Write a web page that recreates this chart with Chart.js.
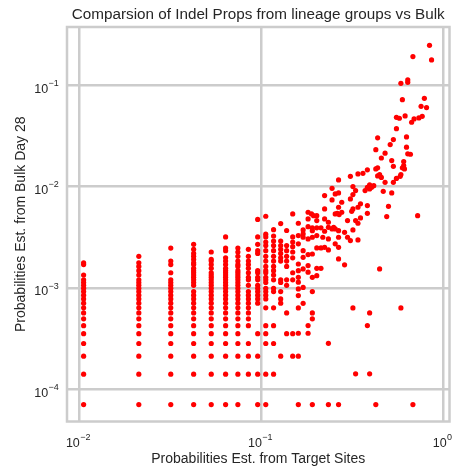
<!DOCTYPE html>
<html>
<head>
<meta charset="utf-8">
<title>Comparsion of Indel Props from lineage groups vs Bulk</title>
<script src="https://cdn.jsdelivr.net/npm/chart.js@4.4.0/dist/chart.umd.min.js"></script>
<style>
  html, body { margin: 0; padding: 0; background: #ffffff; }
  #wrap { width: 461px; height: 468px; }
</style>
</head>
<body>
<div id="wrap"><canvas id="chart" width="461" height="468"></canvas></div>
<script>
// Target-site probability levels (discrete columns at the low end)
const siteLevels = [0.0106, 0.0213, 0.0319, 0.0426, 0.0532, 0.0638, 0.0745,
                    0.0851, 0.0957, 0.106, 0.117, 0.128, 0.138, 0.149];

// Bulk day-28 probabilities shared by the first columns
const lowBulkLevels = [7.07e-5, 1.41e-4, 2.12e-4, 2.83e-4, 3.54e-4, 4.24e-4, 4.95e-4,
                       5.66e-4, 6.36e-4, 7.07e-4, 7.78e-4, 8.48e-4, 9.19e-4, 9.9e-4,
                       1.06e-3, 1.13e-3, 1.2e-3];

// Bulk day-28 probabilities observed at each target-site level
const bulkAtLevel = [
  [...lowBulkLevels, 1.34e-3, 1.7e-3, 1.77e-3],
  [...lowBulkLevels, 1.34e-3, 1.48e-3, 1.63e-3, 1.77e-3, 2.05e-3],
  [...lowBulkLevels, 1.41e-3, 1.7e-3, 1.84e-3, 2.47e-3],
  [...lowBulkLevels.slice(0, 13), 1.06e-3, 1.13e-3, 1.2e-3, 1.27e-3, 1.34e-3, 1.41e-3, 1.48e-3,
   1.56e-3, 1.7e-3, 1.77e-3, 1.91e-3, 2.05e-3, 2.19e-3, 2.4e-3, 2.69e-3],
  [...lowBulkLevels, 1.27e-3, 1.34e-3, 1.41e-3, 1.56e-3, 1.7e-3, 1.84e-3, 1.91e-3, 2.26e-3],
  [...lowBulkLevels, 1.27e-3, 1.34e-3, 1.41e-3, 1.48e-3, 1.56e-3, 1.7e-3, 1.84e-3, 1.98e-3,
   2.33e-3, 2.47e-3, 3.18e-3],
  [...lowBulkLevels, 1.27e-3, 1.34e-3, 1.41e-3, 1.48e-3, 1.63e-3, 1.7e-3, 1.84e-3, 2.05e-3,
   2.26e-3, 2.47e-3],
  [1.41e-4, 2.12e-4, 2.83e-4, 4.24e-4, 4.95e-4, 5.66e-4, 6.36e-4, 7.07e-4, 7.78e-4, 8.48e-4,
   9.19e-4, 1.06e-3, 1.2e-3, 1.27e-3, 1.41e-3, 1.56e-3, 1.7e-3, 1.84e-3, 2.05e-3, 2.4e-3],
  [7.07e-5, 1.41e-4, 2.12e-4, 3.54e-4, 7.07e-4, 7.78e-4, 8.48e-4, 9.19e-4, 9.9e-4, 1.06e-3,
   1.2e-3, 1.27e-3, 1.41e-3, 1.48e-3, 2.19e-3, 2.33e-3, 2.69e-3, 3.18e-3, 4.74e-3],
  [7.07e-5, 1.41e-4, 2.83e-4, 3.54e-4, 4.24e-4, 6.36e-4, 7.78e-4, 8.48e-4, 9.19e-4, 9.9e-4,
   1.13e-3, 1.2e-3, 1.27e-3, 1.41e-3, 1.48e-3, 1.63e-3, 1.84e-3, 2.05e-3, 2.33e-3, 2.62e-3,
   2.83e-3, 3.18e-3, 3.39e-3, 5.09e-3],
  [1.41e-4, 2.83e-4, 4.24e-4, 6.36e-4, 9.19e-4, 9.9e-4, 1.2e-3, 1.34e-3, 1.48e-3, 1.63e-3,
   1.84e-3, 2.05e-3, 2.33e-3, 2.62e-3, 2.9e-3, 3.25e-3, 3.75e-3],
  [2.12e-4, 7.07e-4, 7.78e-4, 9.19e-4, 1.13e-3, 1.2e-3, 1.84e-3, 1.98e-3, 2.19e-3, 2.4e-3,
   2.62e-3, 2.9e-3, 4.31e-3],
  [3.54e-4, 5.66e-4, 1.06e-3, 1.2e-3, 1.63e-3, 1.84e-3, 2.05e-3, 2.33e-3, 2.62e-3, 3.68e-3],
  [2.12e-4, 3.54e-4, 1.2e-3, 1.41e-3, 1.98e-3, 2.26e-3, 2.55e-3, 2.83e-3, 3.18e-3, 5.37e-3]
];

// Remaining indels: [target-site probability, bulk day-28 probability]
const upperPairs = [
  [0.362, 0.0135], [0.340, 0.0133], [0.309, 0.0126], [0.266, 0.0116], [0.245, 0.0096],
  [0.319, 0.00998], [0.330, 0.00911], [0.255, 0.00845], [0.266, 0.00865], [0.223, 0.00813],
  [0.319, 0.00832], [0.277, 0.00699], [0.245, 0.00738], [0.309, 0.00755], [0.351, 0.00674],
  [0.340, 0.00624], [0.319, 0.00601], [0.314, 0.00569], [0.266, 0.00624], [0.262, 0.00544],
  [0.255, 0.00537], [0.277, 0.00557], [0.268, 0.00528], [0.223, 0.00601], [0.202, 0.00516],
  [0.194, 0.00516], [0.181, 0.00557], [0.189, 0.00537], [0.181, 0.00479], [0.202, 0.00461],
  [0.223, 0.00479], [0.234, 0.00444], [0.245, 0.00382], [0.255, 0.00382], [0.266, 0.00367],
  [0.250, 0.00396], [0.298, 0.00461], [0.330, 0.00461], [0.351, 0.00490], [0.340, 0.00434],
  [0.319, 0.00373], [0.287, 0.00353], [0.298, 0.00316], [0.266, 0.00316], [0.340, 0.00297],
  [0.309, 0.00293], [0.234, 0.00396], [0.223, 0.00362], [0.213, 0.00391], [0.202, 0.00391],
  [0.191, 0.00391], [0.191, 0.00367], [0.181, 0.00402], [0.170, 0.00373], [0.170, 0.00341],
  [0.160, 0.00434], [0.160, 0.00328], [0.170, 0.00316], [0.181, 0.00304], [0.191, 0.00316],
  [0.202, 0.00328], [0.218, 0.00316], [0.234, 0.00304], [0.255, 0.00272], [0.266, 0.00251],
  [0.223, 0.00251], [0.234, 0.00237], [0.213, 0.00248], [0.202, 0.00248], [0.191, 0.00216],
  [0.181, 0.00213], [0.170, 0.00233], [0.170, 0.00200], [0.160, 0.00272], [0.160, 0.00172],
  [0.181, 0.00166], [0.170, 0.00154], [0.160, 0.00148], [0.181, 0.00143], [0.191, 0.00127],
  [0.202, 0.00132], [0.202, 0.00156], [0.213, 0.00156], [0.266, 0.00193], [0.287, 0.00169],
  [0.160, 0.00127], [0.160, 0.00114], [0.170, 0.00101], [0.160, 0.000977], [0.191, 0.000919],
  [0.160, 0.000840], [0.170, 0.000705], [0.160, 0.000635], [0.191, 0.000567], [0.191, 0.000495],
  [0.181, 0.000425], [0.181, 0.000357], [0.160, 0.000357], [0.319, 0.000635], [0.234, 0.000284],
  [0.160, 0.000212], [0.330, 0.000142], [0.160, 0.0000707], [0.191, 0.0000707],
  [0.234, 0.0000707], [0.266, 0.0000707],
  [0.383, 0.0146], [0.394, 0.0104], [0.383, 0.00982], [0.372, 0.00911], [0.394, 0.00947],
  [0.404, 0.00982], [0.415, 0.0102], [0.383, 0.00648], [0.383, 0.00544], [0.394, 0.000567],
  [0.383, 0.000425], [0.394, 0.000142],
  [0.489, 0.00505], [0.723, 0.00516], [0.447, 0.00154], [0.585, 0.000635],
  [0.426, 0.0000707], [0.681, 0.0000707],
  [0.840, 0.247], [0.862, 0.177], [0.681, 0.191], [0.638, 0.1125], [0.638, 0.1066],
  [0.585, 0.1042], [0.596, 0.0719], [0.787, 0.0741], [0.755, 0.0618], [0.809, 0.0600],
  [0.553, 0.0481], [0.574, 0.0471], [0.617, 0.0497], [0.670, 0.0430], [0.691, 0.0464],
  [0.734, 0.0475], [0.766, 0.0492], [0.553, 0.0372], [0.436, 0.0302], [0.532, 0.0290],
  [0.628, 0.0308], [0.511, 0.0259], [0.426, 0.0231], [0.628, 0.0244], [0.479, 0.0213],
  [0.457, 0.0191], [0.638, 0.0210], [0.660, 0.0208], [0.521, 0.0180], [0.606, 0.0176],
  [0.532, 0.0158], [0.606, 0.0161], [0.596, 0.0153], [0.612, 0.0149], [0.585, 0.0131],
  [0.436, 0.0153], [0.426, 0.0149], [0.447, 0.0131], [0.436, 0.0127], [0.457, 0.0123],
  [0.553, 0.0120], [0.580, 0.0126], [0.479, 0.0110], [0.532, 0.0110], [0.468, 0.00897],
  [0.521, 0.00865], [0.500, 0.00638]
];

// Decade ticks for both log axes
const xDecades = [0.01, 0.1, 1];
const yDecades = [1e-4, 1e-3, 1e-2, 1e-1];

const FONT = "'Liberation Sans', Arial, sans-serif";
const TEXT = '#262626';
const GRID = '#cccccc';

const points = [];
siteLevels.forEach((x, i) => bulkAtLevel[i].forEach(y => points.push({ x, y })));
upperPairs.forEach(([x, y]) => points.push({ x, y }));

// Axes frame on all four sides
const framePlugin = {
  id: 'frame',
  afterDatasetsDraw(chart) {
    const { ctx, chartArea: a } = chart;
    ctx.save();
    ctx.strokeStyle = GRID;
    ctx.lineWidth = 2.5;
    ctx.strokeRect(a.left, a.top, a.right - a.left, a.bottom - a.top);
    ctx.restore();
  }
};

// Power-of-ten tick labels with raised exponents
const decadeLabels = {
  id: 'decadeLabels',
  afterDraw(chart) {
    const { ctx, chartArea: a } = chart;
    const baseSize = 12.5, expSize = 9;
    ctx.save();
    ctx.fillStyle = TEXT;
    ctx.textBaseline = 'alphabetic';
    ctx.textAlign = 'left';
    ['x', 'y'].forEach(id => {
      const s = chart.scales[id];
      s.ticks.forEach(t => {
        const e = Math.round(Math.log10(t.value));
        const expText = (e < 0 ? '\u2212' : '') + Math.abs(e);
        ctx.font = `${baseSize}px ${FONT}`;
        const wBase = ctx.measureText('10').width;
        ctx.font = `${expSize}px ${FONT}`;
        const wExp = ctx.measureText(expText).width;
        const p = s.getPixelForValue(t.value);
        let x0, yb;
        if (id === 'x') {
          x0 = p - (wBase + wExp) / 2 - 1;
          yb = a.bottom + 25.4;
        } else {
          x0 = a.left - 8.5 - (wBase + wExp);
          yb = p + 7.6;
        }
        ctx.font = `${baseSize}px ${FONT}`;
        ctx.fillText('10', x0, yb);
        ctx.font = `${expSize}px ${FONT}`;
        ctx.fillText(expText, x0 + wBase + 0.3, yb - 6.8);
      });
    });
    ctx.restore();
  }
};

new Chart(document.getElementById('chart'), {
  type: 'scatter',
  data: {
    datasets: [{
      data: points,
      backgroundColor: '#ff0000',
      borderWidth: 0,
      pointRadius: 2.6,
      pointHoverRadius: 2.6
    }]
  },
  options: {
    responsive: false,
    animation: false,
    devicePixelRatio: 1,
    layout: { padding: { left: 0, right: 11.5, top: 0, bottom: 0 } },
    plugins: {
      legend: { display: false },
      tooltip: { enabled: false },
      title: {
        display: true,
        fullSize: false,
        text: 'Comparsion of Indel Props from lineage groups vs Bulk',
        color: TEXT,
        font: { family: FONT, size: 15.25, weight: 'normal', lineHeight: 1.2 },
        padding: { top: 6, bottom: 2.7 }
      }
    },
    scales: {
      x: {
        type: 'logarithmic',
        min: 0.008592,
        max: 1.0814,
        afterBuildTicks: s => { s.ticks = xDecades.map(v => ({ value: v })); },
        afterFit: s => { s.height = 46.5; },
        grid: { color: GRID, lineWidth: 2.5, drawTicks: false },
        border: { display: false },
        ticks: { display: false },
        title: {
          display: true,
          text: 'Probabilities Est. from Target Sites',
          color: TEXT,
          font: { family: FONT, size: 14, lineHeight: 1.2 },
          padding: { top: 0, bottom: 0.5 }
        }
      },
      y: {
        type: 'logarithmic',
        min: 4.813e-5,
        max: 0.3741,
        afterBuildTicks: s => { s.ticks = yDecades.map(v => ({ value: v })); },
        afterFit: s => { s.width = 67; },
        grid: { color: GRID, lineWidth: 2.5, drawTicks: false },
        border: { display: false },
        ticks: { display: false },
        title: {
          display: true,
          text: 'Probabilities Est. from Bulk Day 28',
          color: TEXT,
          font: { family: FONT, size: 14, lineHeight: 1.2 },
          padding: { top: 12.7, bottom: 0 }
        }
      }
    }
  },
  plugins: [framePlugin, decadeLabels]
});
</script>
</body>
</html>
